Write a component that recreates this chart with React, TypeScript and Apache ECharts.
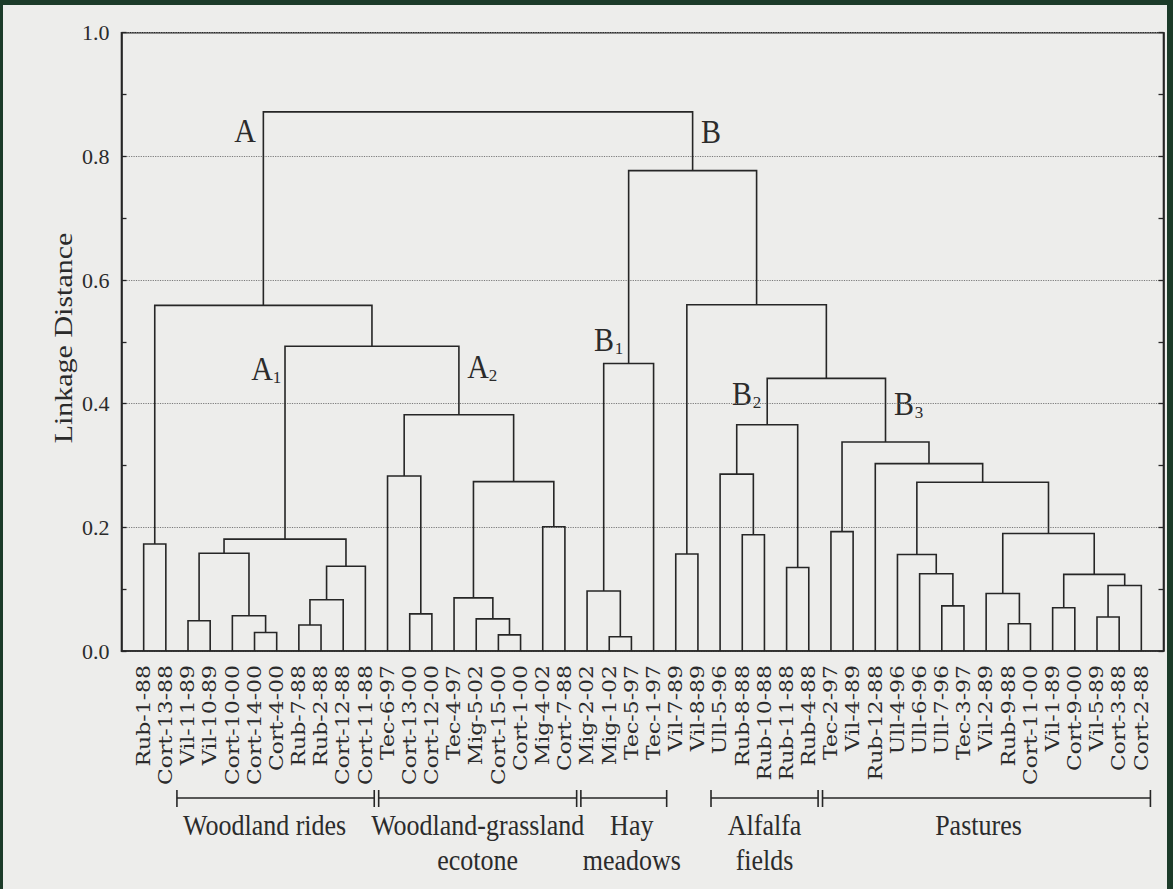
import React, { useEffect, useRef } from "react";
import * as echarts from "echarts";

// ---- data -----------------------------------------------------------
const leafNames = [
  "Rub-1-88", "Cort-13-88", "Vil-11-89", "Vil-10-89", "Cort-10-00", "Cort-14-00",
  "Cort-4-00", "Rub-7-88", "Rub-2-88", "Cort-12-88", "Cort-11-88", "Tec-6-97",
  "Cort-13-00", "Cort-12-00", "Tec-4-97", "Mig-5-02", "Cort-15-00", "Cort-1-00",
  "Mig-4-02", "Cort-7-88", "Mig-2-02", "Mig-1-02", "Tec-5-97", "Tec-1-97",
  "Vil-7-89", "Vil-8-89", "Ull-5-96", "Rub-8-88", "Rub-10-88", "Rub-11-88",
  "Rub-4-88", "Tec-2-97", "Vil-4-89", "Rub-12-88", "Ull-4-96", "Ull-6-96",
  "Ull-7-96", "Tec-3-97", "Vil-2-89", "Rub-9-88", "Cort-11-00", "Vil-1-89",
  "Cort-9-00", "Vil-5-89", "Cort-3-88", "Cort-2-88",
];

// linkage: index < 46 is a leaf, index >= 46 refers to merge (index - 46)
const mergeLeft = [
  0, 2, 5, 4, 47, 7, 51, 52, 50, 12, 11, 16, 15, 14, 18, 59, 56, 54, 46,
  21, 20, 66, 24, 27, 26, 29, 70, 31, 36, 35, 34, 39, 38, 41, 43, 80, 79, 78, 76, 33, 73, 72, 68, 67, 64,
];
const mergeRight = [
  1, 3, 6, 48, 49, 8, 9, 10, 53, 13, 55, 17, 57, 58, 19, 60, 61, 62, 63,
  22, 65, 23, 25, 28, 69, 30, 71, 32, 37, 74, 75, 40, 77, 42, 44, 45, 81, 82, 83, 84, 85, 86, 87, 88, 89,
];
const mergeHeight = [
  0.173, 0.049, 0.030, 0.057, 0.158, 0.042, 0.083, 0.137, 0.181, 0.060, 0.283, 0.026, 0.052, 0.086, 0.201, 0.274, 0.382, 0.493, 0.559,
  0.023, 0.097, 0.465, 0.157, 0.188, 0.286, 0.135, 0.366, 0.193, 0.073, 0.125, 0.156, 0.044, 0.093, 0.070, 0.055, 0.106, 0.124, 0.190, 0.273, 0.303, 0.338, 0.441, 0.560, 0.777, 0.872,
];

const yTickValues = [0, 0.2, 0.4, 0.6, 0.8, 1.0];

const groupNames = [
  "Woodland rides",
  "Woodland-grassland\necotone",
  "Hay\nmeadows",
  "Alfalfa\nfields",
  "Pastures",
];
const groupStart = [1.5, 10.6, 19.72, 25.59, 30.62];
const groupEnd = [10.4, 19.53, 23.59, 30.42, 45.41];

const clusterMain = ["A", "A", "A", "B", "B", "B", "B"];
const clusterSub = ["", "1", "2", "", "1", "2", "3"];

// ---- styles ---------------------------------------------------------
const LINE = "#262626";
const TEXT = "#2b2b2b";
const SERIF = "Liberation Serif";
const LABEL_FONT = "DejaVu Serif";
const clusterPos = [
  [245, 131],
  [262, 369],
  [478, 367],
  [711, 132],
  [604, 340],
  [742, 394],
  [904, 404],
];
const groupTextShift = [-11, 0, 8, 0, -8];

function buildOption() {
  const nodeX: number[] = leafNames.map((_, i) => i);
  const nodeH: number[] = leafNames.map(() => 0);
  const linkData = mergeLeft.map((l, k) => {
    const r = mergeRight[k];
    const h = mergeHeight[k];
    const item = [nodeX[l], nodeH[l], nodeX[r], nodeH[r], h];
    nodeX.push((nodeX[l] + nodeX[r]) / 2);
    nodeH.push(h);
    return item;
  });

  const graphic: any[] = [
    { type: "rect", shape: { x: 0, y: 0, width: 1173, height: 5 }, style: { fill: "#1c3b29" }, z: 100 },
    { type: "rect", shape: { x: 0, y: 0, width: 3, height: 889 }, style: { fill: "#1c3b29" }, z: 100 },
    { type: "rect", shape: { x: 1167, y: 0, width: 6, height: 889 }, style: { fill: "#1c3b29" }, z: 100 },
    {
      type: "text",
      x: 63,
      y: 338,
      rotation: Math.PI / 2,
      scaleX: 1.2,
      style: {
        text: "Linkage Distance",
        fontFamily: SERIF,
        fontSize: 25,
        fill: TEXT,
        align: "center",
        verticalAlign: "middle",
      },
    },
  ];
  clusterMain.forEach((m, i) => {
    const [cx, cy] = clusterPos[i];
    graphic.push({
      type: "text",
      x: cx,
      y: cy,
      scaleY: 1.1,
      style: { text: m, fontFamily: SERIF, fontSize: 30, fill: TEXT, align: "center", verticalAlign: "middle" },
    });
    if (clusterSub[i]) {
      graphic.push({
        type: "text",
        x: cx + 15,
        y: cy + 8,
        style: { text: clusterSub[i], fontFamily: SERIF, fontSize: 17, fill: TEXT, align: "center", verticalAlign: "middle" },
      });
    }
  });

  const axisLineStyle = { color: LINE, width: 1.6 };

  return {
    animation: false,
    backgroundColor: "#ededeb",
    grid: {
      left: 121.5,
      right: 9.5,
      top: 32.7,
      bottom: 238,
      show: true,
      borderColor: LINE,
      borderWidth: 1.6,
      backgroundColor: "transparent",
    },
    xAxis: {
      type: "value",
      min: -1,
      max: leafNames.length,
      interval: 1,
      axisLine: { show: true, onZero: false, lineStyle: axisLineStyle },
      axisTick: { show: false },
      axisLabel: { show: false },
      splitLine: { show: false },
    },
    yAxis: [
      {
        type: "value",
        min: yTickValues[0],
        max: yTickValues[yTickValues.length - 1],
        interval: 0.2,
        position: "left",
        axisLine: { show: true, onZero: false, lineStyle: axisLineStyle },
        axisTick: { show: true, inside: true, length: 5, lineStyle: { color: LINE, width: 1.3 } },
        minorTick: { show: true, splitNumber: 2, length: 5, lineStyle: { color: LINE, width: 1.3 } },
        axisLabel: {
          formatter: (v: number) => v.toFixed(1),
          fontFamily: SERIF,
          fontSize: 22,
          color: TEXT,
          margin: 12,
        },
        splitLine: { show: true, lineStyle: { color: "#7a7a7a", type: "dotted", width: 1.2 } },
      },
      {
        type: "value",
        min: yTickValues[0],
        max: yTickValues[yTickValues.length - 1],
        interval: 0.2,
        position: "right",
        axisLine: { show: true, onZero: false, lineStyle: axisLineStyle },
        axisTick: { show: true, inside: true, length: 5, lineStyle: { color: LINE, width: 1.3 } },
        minorTick: { show: true, splitNumber: 2, length: 5, lineStyle: { color: LINE, width: 1.3 } },
        axisLabel: { show: false },
        splitLine: { show: false },
      },
    ],
    graphic,
    series: [
      {
        type: "custom",
        name: "dendrogram",
        coordinateSystem: "cartesian2d",
        clip: false,
        silent: true,
        encode: { x: [0, 2], y: [1, 3, 4] },
        data: linkData,
        renderItem: (params: any, api: any) => {
          const a = api.coord([api.value(0), api.value(1)]);
          const b = api.coord([api.value(0), api.value(4)]);
          const c = api.coord([api.value(2), api.value(4)]);
          const d = api.coord([api.value(2), api.value(3)]);
          return {
            type: "polyline",
            shape: { points: [a, b, c, d] },
            style: { stroke: LINE, lineWidth: 1.6, fill: "none" },
          };
        },
      },
      {
        type: "custom",
        name: "leaves",
        coordinateSystem: "cartesian2d",
        clip: false,
        silent: true,
        encode: { x: 0, y: 1 },
        data: leafNames.map((_, i) => [i, 0]),
        renderItem: (params: any, api: any) => {
          const p = api.coord([api.value(0), 0]);
          return {
            type: "text",
            x: p[0],
            y: p[1] + 14,
            rotation: Math.PI / 2,
            scaleX: 1.22,
            style: {
              text: leafNames[params.dataIndex],
              fontFamily: LABEL_FONT,
              fontSize: 18,
              fill: TEXT,
              align: "right",
              verticalAlign: "middle",
            },
          };
        },
      },
      {
        type: "custom",
        name: "groups",
        coordinateSystem: "cartesian2d",
        clip: false,
        silent: true,
        encode: { x: [0, 1], y: 2 },
        data: groupStart.map((s, i) => [s, groupEnd[i], 0]),
        renderItem: (params: any, api: any) => {
          const i = params.dataIndex;
          const p0 = api.coord([api.value(0), 0]);
          const p1 = api.coord([api.value(1), 0]);
          const y = p0[1] + 147;
          const st = { stroke: LINE, lineWidth: 1.6 };
          return {
            type: "group",
            children: [
              { type: "line", shape: { x1: p0[0], y1: y, x2: p1[0], y2: y }, style: st },
              { type: "line", shape: { x1: p0[0], y1: y - 8, x2: p0[0], y2: y + 9 }, style: st },
              { type: "line", shape: { x1: p1[0], y1: y - 8, x2: p1[0], y2: y + 9 }, style: st },
              {
                type: "text",
                x: (p0[0] + p1[0]) / 2 + groupTextShift[i],
                y: y + 10,
                scaleY: 1.12,
                style: {
                  text: groupNames[i],
                  fontFamily: SERIF,
                  fontSize: 26,
                  lineHeight: 31,
                  fill: TEXT,
                  align: "center",
                  verticalAlign: "top",
                },
              },
            ],
          };
        },
      },
    ],
  };
}

export default function App() {
  const ref = useRef<HTMLDivElement>(null);
  useEffect(() => {
    if (!ref.current) return;
    const chart = echarts.init(ref.current, undefined, { renderer: "svg" });
    chart.setOption(buildOption() as any);
    return () => chart.dispose();
  }, []);
  return (
    <div
      ref={ref}
      style={{ position: "fixed", left: 0, top: 0, width: 1173, height: 889 }}
    />
  );
}
